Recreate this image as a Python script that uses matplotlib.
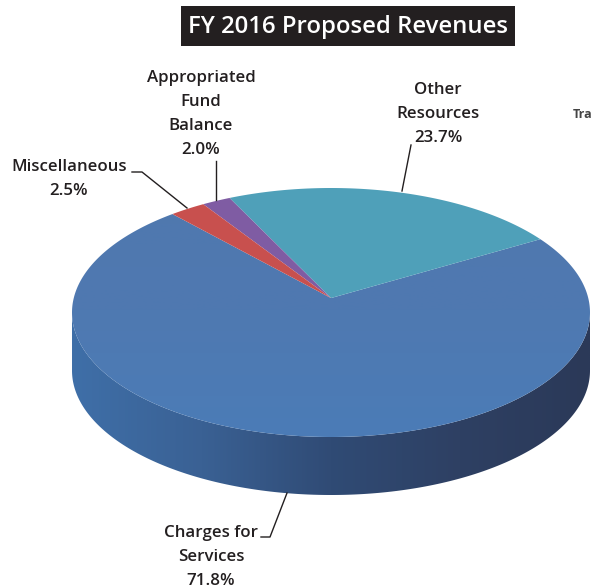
import matplotlib
matplotlib.use("Agg")
import matplotlib.pyplot as plt
from matplotlib.colors import LinearSegmentedColormap
from matplotlib.patches import Polygon
import numpy as np

categories = ["Other Resources", "Appropriated Fund Balance", "Miscellaneous", "Charges for Services"]
shares = [23.7, 2.0, 2.5, 71.8]
colors = ["#4fa0b9", "#7f5ca3", "#c8504e", "#4f79b1"]

plt.rcParams["font.family"] = ["Open Sans", "DejaVu Sans"]

cx, cy = 331, 312.5
rx, ry = 259, 124.5
depth = 58
start = 30.5
k = 0.116  # the pie's centre sits above the middle of the ellipse (perspective)


def project(ang):
    a = np.radians(ang)
    s, c = np.sin(a), np.cos(a)
    d = 1 + k * s
    return cx + rx * c * np.sqrt(1 - k * k) / d, cy - ry * (s + k) / d


fig = plt.figure(figsize=(5.92, 5.88), dpi=100)
ax = fig.add_axes([0, 0, 1, 1])

# side of the pie, gradient clipped to the rim shape
side = LinearSegmentedColormap.from_list(
    "side", ["#3f6fa8", "#3a6194", "#304b75", "#2e4063", "#2b3958"])
t = np.linspace(180, 360, 300)
xs = cx + rx * np.cos(np.radians(t))
ys = cy - ry * np.sin(np.radians(t))
rim = Polygon(np.c_[np.r_[xs, xs[::-1]], np.r_[ys, ys[::-1] + depth]], transform=ax.transData,
              fc="none", lw=0)
ax.add_patch(rim)
im = ax.imshow(np.linspace(0, 1, 256)[None, :], cmap=side, aspect="auto",
               extent=(72, 590, 500, 300), zorder=1)
im.set_clip_path(rim)

# top face
centre = (cx, cy - ry * k)
edges = start + np.cumsum([0] + shares) * 3.6
face = LinearSegmentedColormap.from_list("face", ["#4f78ae", "#4f79b1", "#4b7cb7"])
for i in range(len(shares)):
    a = np.linspace(edges[i], edges[i + 1], 300)
    px, py = project(a)
    pts = np.c_[np.r_[centre[0], px], np.r_[centre[1], py]]
    if categories[i] == "Charges for Services":
        w = Polygon(pts, transform=ax.transData, fc="none", lw=0)
        ax.add_patch(w)
        f = ax.imshow(np.linspace(0, 1, 256)[:, None], cmap=face, aspect="auto",
                      extent=(60, 592, 440, 180), zorder=2)
        f.set_clip_path(w)
    else:
        ax.add_patch(Polygon(pts, fc=colors[i], lw=0, zorder=3))
ax.set_xlim(0, 592)
ax.set_ylim(588, 0)
ax.axis("off")

# title bar
ax.fill([181, 515, 515, 181], [6, 6, 46, 46], color="#231f20", lw=0, zorder=4)
ax.text(348, 27, "FY 2016 Proposed Revenues", color="white", fontsize=17.2,
        fontweight="semibold", ha="center", va="center", zorder=5)

label_style = dict(color="#231f20", fontsize=12.2, fontweight="semibold",
                   ha="center", va="center", linespacing=1.66, zorder=5)
ax.text(201, 114, "Appropriated\nFund\nBalance\n2.0%", **label_style)
ax.text(69, 179, "Miscellaneous\n2.5%", **label_style)
ax.text(438, 114, "Other\nResources\n23.7%", **label_style)
ax.text(211, 557, "Charges for\nServices\n71.8%", **label_style)
ax.text(573, 115, "Tra", color="#444444", fontsize=9, fontweight="bold", ha="left", va="center", zorder=5)

# leader lines
ax.plot([132, 142, 187], [172, 172, 208], color="#231f20", lw=1, zorder=5)
ax.plot([216, 216], [161, 200], color="#231f20", lw=1, zorder=5)
ax.plot([411, 402], [145, 191], color="#231f20", lw=1, zorder=5)
ax.plot([261, 270, 287], [537, 537, 493], color="#231f20", lw=1, zorder=5)

fig.savefig("out.png", dpi=100)
